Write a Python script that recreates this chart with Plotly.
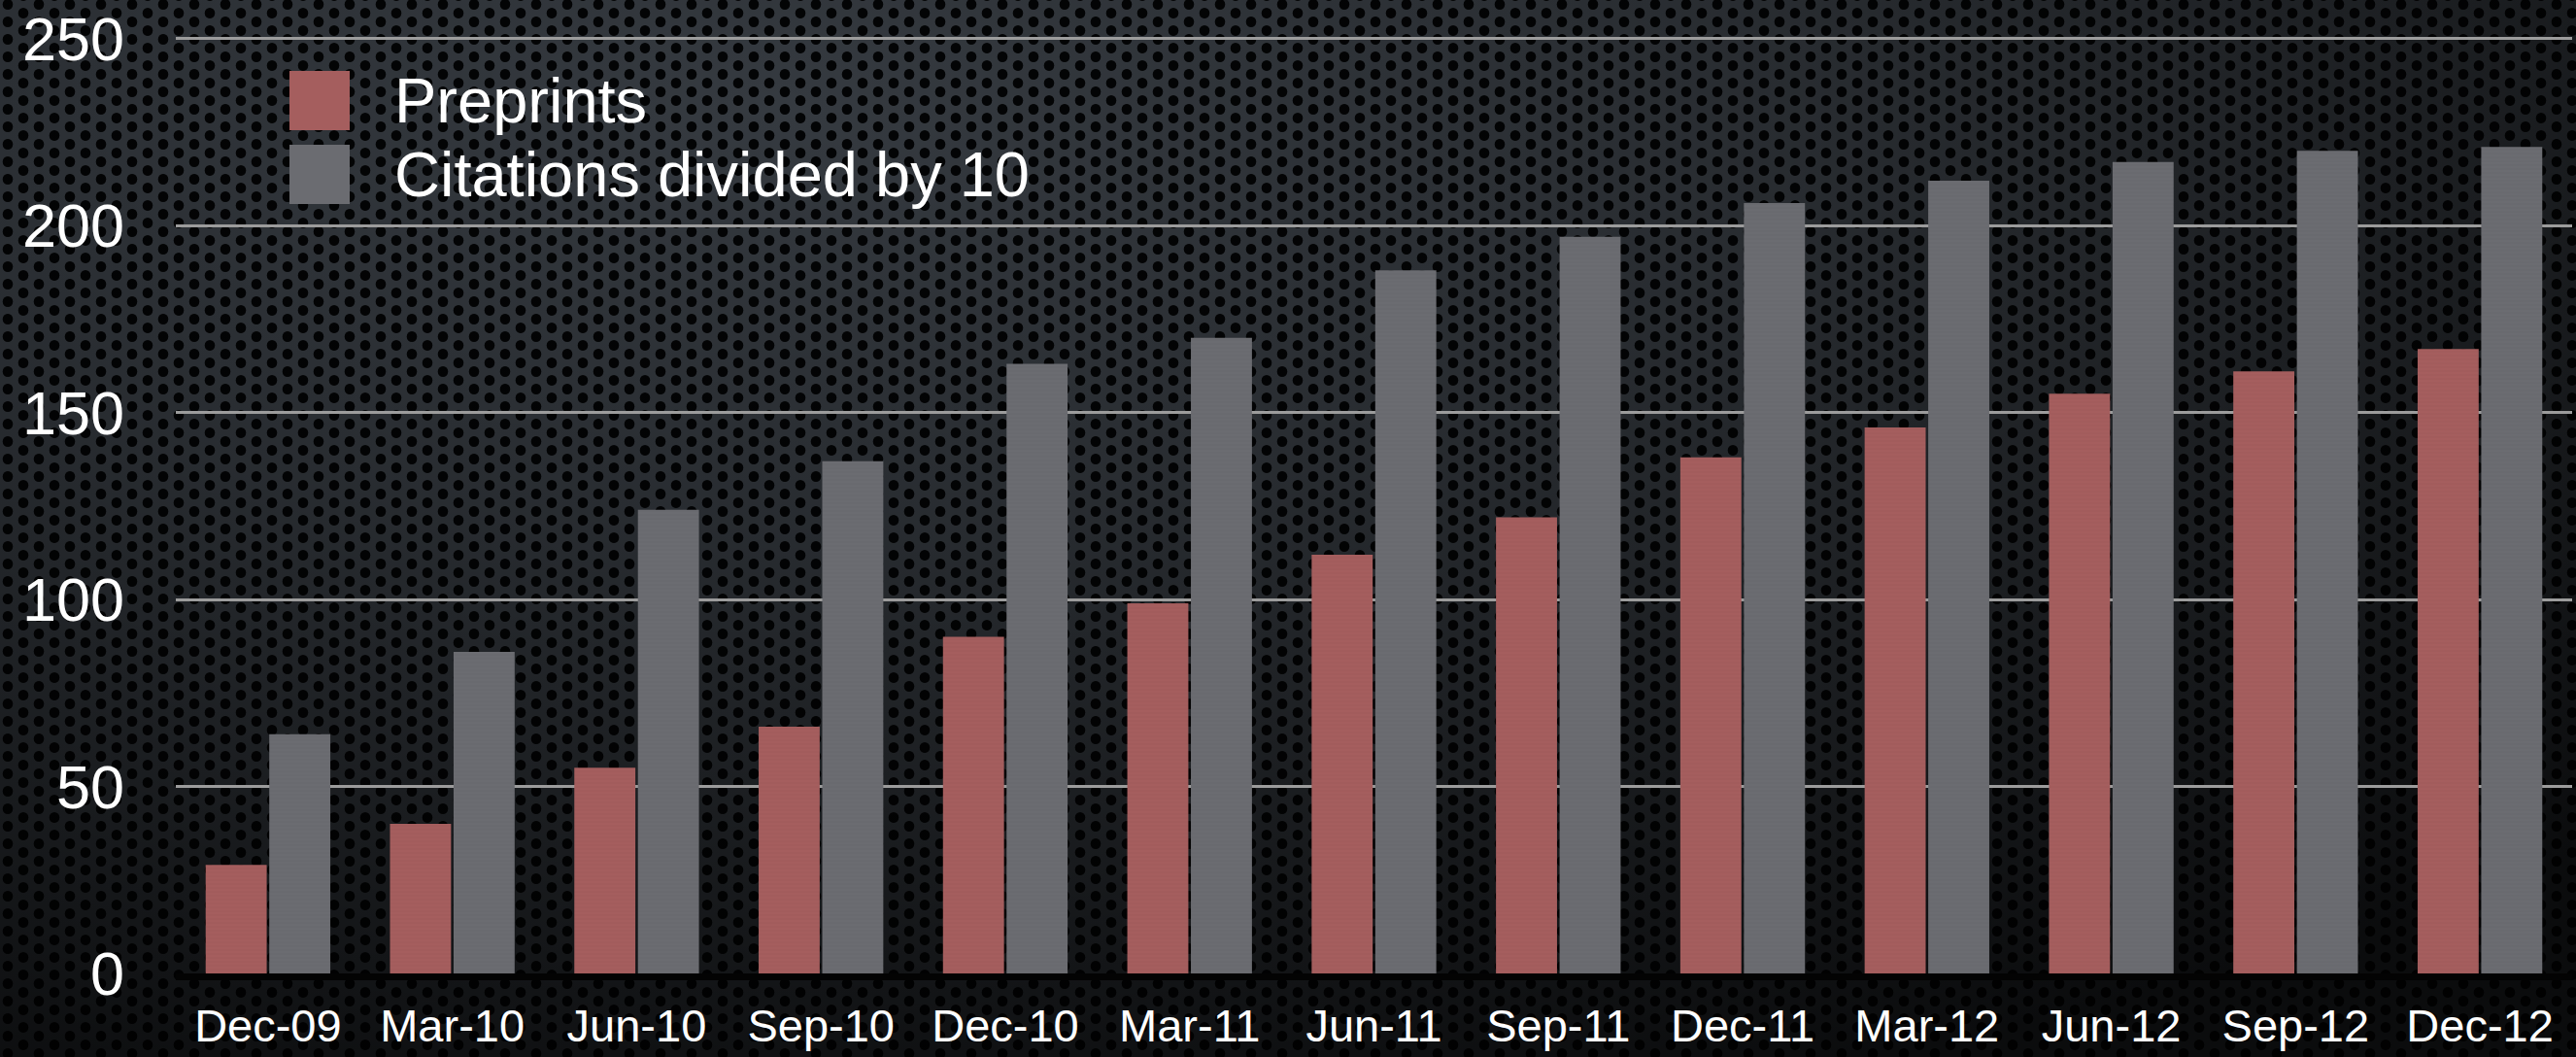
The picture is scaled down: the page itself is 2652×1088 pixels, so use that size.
import base64
import plotly.graph_objects as go

# ---- data ----
categories = ["Dec-09", "Mar-10", "Jun-10", "Sep-10", "Dec-10", "Mar-11", "Jun-11",
              "Sep-11", "Dec-11", "Mar-12", "Jun-12", "Sep-12", "Dec-12"]
preprints = [29, 40, 55, 66, 90, 99, 112, 122, 138, 146, 155, 161, 167]
citations_div10 = [64, 86, 124, 137, 163, 170, 188, 197, 206, 212, 217, 220, 221]
y_ticks = [0, 50, 100, 150, 200, 250]
series_names = ["Preprints", "Citations divided by 10"]

# ---- geometry / style ----
W, H = 2652, 1088
ML, MR, MT, MB = 181, 4, 32, 86
PW, PH = W - ML - MR, H - MT - MB
RED = "#a55e5e"
GRAY = "#6b6c71"
FONT = "Liberation Sans, Arial, Helvetica, sans-serif"

def px_x(px):
    return (px - ML) / PW

def px_y(py):
    return (H - MB - py) / PH

# perforated metal background as an SVG pattern
svg = f"""<svg xmlns='http://www.w3.org/2000/svg' width='{W}' height='{H}'>
<defs>
<pattern id='p' width='32' height='18' patternUnits='userSpaceOnUse'>
<rect width='32' height='18' fill='#353a40'/>
<ellipse cx='8' cy='4.5' rx='5.3' ry='5.5' fill='#030405'/>
<ellipse cx='24' cy='13.5' rx='5.3' ry='5.5' fill='#030405'/>
<ellipse cx='8' cy='22.5' rx='5.3' ry='5.5' fill='#030405'/>
<ellipse cx='24' cy='-4.5' rx='5.3' ry='5.5' fill='#030405'/>
</pattern>
<radialGradient id='g' cx='0.3' cy='0.1' r='1.0' gradientUnits='objectBoundingBox'>
<stop offset='0' stop-color='#000' stop-opacity='0.0'/>
<stop offset='0.4' stop-color='#000' stop-opacity='0.25'/>
<stop offset='1' stop-color='#000' stop-opacity='0.8'/>
</radialGradient>
</defs>
<rect width='{W}' height='{H}' fill='url(#p)'/>
<rect width='{W}' height='{H}' fill='url(#g)'/>
</svg>"""
bg_src = "data:image/svg+xml;base64," + base64.b64encode(svg.encode()).decode()

fig = go.Figure()
fig.add_trace(go.Bar(
    x=categories, y=preprints, name=series_names[0], showlegend=False,
    marker=dict(color=RED, line=dict(width=0),
                pattern=dict(shape="-", fgcolor="#945353", size=4, solidity=0.2)),
))
fig.add_trace(go.Bar(
    x=categories, y=citations_div10, name=series_names[1], showlegend=False,
    marker=dict(color=GRAY, line=dict(width=0),
                pattern=dict(shape="-", fgcolor="#606166", size=4, solidity=0.2)),
))

# manual legend (large swatches as in the reference)
legend_rows = [(series_names[0], RED, 73, 134), (series_names[1], GRAY, 149, 210)]
for name, col, ytop, ybot in legend_rows:
    fig.add_shape(type="rect", xref="paper", yref="paper",
                  x0=px_x(298), x1=px_x(360), y0=px_y(ybot), y1=px_y(ytop),
                  fillcolor=col, line=dict(width=0), layer="above")
    fig.add_annotation(xref="paper", yref="paper", x=px_x(404), y=px_y((ytop + ybot) / 2),
                       text=name, showarrow=False, xanchor="left", yanchor="middle",
                       font=dict(family=FONT, size=65, color="white"))

fig.update_layout(
    width=W, height=H,
    margin=dict(l=ML, r=MR, t=MT, b=MB, pad=0, autoexpand=False),
    paper_bgcolor="#15191c", plot_bgcolor="rgba(0,0,0,0)",
    barmode="group", bargap=0.31, bargroupgap=0.04,
    showlegend=False,
    font=dict(family=FONT, color="white"),
    images=[dict(source=bg_src, xref="paper", yref="paper",
                 x=-ML / PW, y=1 + MT / PH, sizex=W / PW, sizey=H / PH,
                 xanchor="left", yanchor="top", sizing="stretch", layer="below")],
)
fig.update_xaxes(
    automargin=False,
    showgrid=False, showline=True, linecolor="#030303", linewidth=7,
    ticks="", tickfont=dict(family=FONT, size=47, color="white"),
    ticklabelstandoff=7, layer="below traces",
)
fig.update_yaxes(
    automargin=False,
    range=[0, 252], tickvals=y_ticks, showgrid=True, gridcolor="#9c9c9c", gridwidth=3,
    zeroline=False, showline=False, ticks="",
    tickfont=dict(family=FONT, size=63, color="white"), ticklabelstandoff=52,
)

fig.write_html(
    "out.html",
    config={"displayModeBar": False},
    post_script="document.body.style.margin='0';document.body.style.overflow='hidden';",
)
